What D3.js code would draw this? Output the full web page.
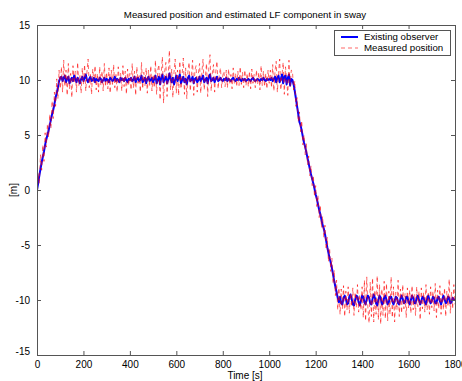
<!DOCTYPE html>
<html>
<head>
<meta charset="utf-8">
<script src="https://cdn.jsdelivr.net/npm/d3@7"></script>
<style>
  body { margin: 0; background: #fff; }
  svg { font-family: "Liberation Sans", Arial, sans-serif; }
</style>
</head>
<body>
<div id="chart"></div>
<script>
// sample spacing of both series, in seconds
const dt = 5;

// estimated LF position from the existing observer [m]
const observer = [
  // 0-100
  0.0, 0.6, 1.3, 1.9, 2.5, 3.0, 3.5, 4.1, 4.6, 5.0, 5.4, 5.9, 6.4, 6.9, 7.3, 7.8, 8.4, 8.8, 9.3, 9.9, 10.2,
  // 105-1095
  10.3, 9.9, 10.2, 10.4, 9.8, 10.1, 10.3, 9.7, 10.0, 10.2, 9.9, 10.4, 10.1, 9.8, 10.2, 10.0, 9.7, 10.1, 10.3, 9.9,
  10.2, 10.5, 10.0, 9.8, 10.1, 10.3, 9.9, 10.0, 10.2, 9.8, 10.1, 10.0, 9.9, 10.2, 10.1, 9.8, 10.0, 10.2, 9.9, 10.1,
  10.0, 9.8, 10.2, 10.1, 9.9, 10.0, 10.3, 9.9, 10.1, 10.0, 9.8, 10.2, 10.0, 10.1, 9.9, 10.2, 10.0, 9.8, 10.1, 10.0,
  10.2, 9.9, 10.0, 10.3, 9.8, 10.1, 10.2, 9.9, 10.0, 10.4, 9.8, 10.0, 10.2, 9.7, 10.1, 10.3, 9.9, 10.0, 10.2, 9.8,
  10.1, 10.4, 9.7, 10.0, 10.3, 9.6, 10.2, 10.5, 9.8, 10.1, 10.3, 9.7, 10.0, 10.6, 10.1, 9.8, 10.2, 9.6, 10.0, 10.4,
  9.9, 10.2, 10.5, 9.7, 10.0, 10.3, 9.8, 10.1, 9.6, 10.2, 10.4, 9.9, 10.0, 10.3, 9.7, 10.1, 10.2, 9.8, 10.0, 10.3,
  9.9, 10.1, 10.4, 9.8, 10.0, 10.2, 9.7, 10.3, 10.5, 9.9, 10.0, 10.2, 9.8, 10.1, 10.3, 9.9, 10.0, 10.2, 10.0, 9.9,
  10.1, 10.0, 10.2, 9.9, 10.1, 10.0, 9.9, 10.1, 10.2, 10.0, 9.9, 10.1, 10.0, 10.2, 10.0, 9.9, 10.1, 10.0, 10.1, 9.9,
  10.0, 10.1, 10.0, 9.9, 10.1, 10.2, 10.0, 9.9, 10.0, 10.1, 10.0, 9.9, 10.1, 10.0, 10.2, 10.0, 9.9, 10.1, 10.0, 10.1,
  10.0, 10.2, 9.9, 10.1, 10.3, 9.8, 10.2, 10.4, 9.8, 10.1, 10.5, 9.7, 10.3, 10.4, 9.6, 10.2, 10.5, 9.5, 10.1,
  // 1100-1300
  10.0, 9.6, 9.0, 8.3, 7.6, 6.9, 6.2, 5.9, 5.4, 4.8, 4.3, 3.9, 3.4, 2.9, 2.4, 1.9, 1.4, 1.0, 0.6, 0.1,
  -0.4, -0.8, -1.3, -1.8, -2.2, -2.7, -3.2, -3.5, -4.0, -4.6, -5.2, -5.7, -6.2, -6.6, -7.1, -7.7, -8.3, -8.8, -9.3, -9.8, -10.2,
  // 1305-1800
  -9.7, -10.3, -10.4, -9.8, -9.6, -9.9, -10.4, -10.3, -9.7, -9.5, -9.9, -10.4, -10.5, -10.0, -9.6, -9.7, -10.2, -10.5, -10.1, -9.6,
  -9.7, -10.2, -10.4, -9.9, -9.6, -9.8, -10.3, -10.4, -9.9, -9.5, -9.8, -10.3, -10.5, -10.0, -9.6, -9.8, -10.4, -10.3, -9.8, -9.6,
  -10.0, -10.4, -10.2, -9.7, -9.7, -10.1, -10.4, -10.1, -9.7, -9.8, -10.3, -10.4, -9.9, -9.6, -9.9, -10.3, -10.2, -9.7, -9.7, -10.2,
  -10.4, -10.0, -9.6, -9.8, -10.3, -10.3, -9.8, -9.6, -10.0, -10.4, -10.1, -9.7, -9.8, -10.2, -10.4, -9.9, -9.6, -10.0, -10.3, -10.1,
  -9.7, -9.8, -10.3, -10.3, -9.8, -9.7, -10.1, -10.4, -10.0, -9.6, -9.9, -10.3, -10.2, -9.7, -9.8, -10.3, -10.2, -9.8, -10.0, -9.9
];

// measured position [m]
const measured = [
  // 0-100
  -1.4, 1.5, 0.6, 3.2, 1.8, 4.1, 2.6, 5.2, 3.9, 6.0, 4.8, 6.9, 5.6, 8.1, 6.5, 8.9, 7.6, 10.1, 8.3, 10.9, 9.2,
  // 105-1095
  11.2, 8.9, 11.8, 9.4, 10.9, 8.6, 11.5, 9.2, 10.6, 8.4, 11.3, 9.7, 10.8, 8.9, 11.6, 9.5, 10.4, 8.8, 11.1, 9.6,
  11.4, 9.0, 10.7, 11.9, 9.3, 10.5, 8.7, 11.0, 9.8, 11.3, 9.1, 10.6, 8.9, 11.2, 9.5, 10.8, 9.0, 11.5, 9.4, 10.7,
  9.2, 11.1, 8.8, 10.9, 9.6, 11.4, 9.3, 10.5, 8.9, 11.2, 9.7, 10.6, 9.0, 11.3, 9.4, 10.8, 8.7, 11.0, 9.5, 10.6,
  9.1, 11.5, 9.3, 10.8, 8.6, 11.2, 9.7, 10.4, 8.9, 11.6, 9.2, 10.7, 9.5, 11.1, 8.8, 10.9, 9.4, 11.3, 9.0, 10.5,
  9.3, 11.8, 8.7, 10.9, 11.4, 8.2, 10.6, 12.1, 7.9, 10.8, 11.6, 8.5, 10.3, 12.7, 9.1, 11.0, 8.4, 10.7, 11.9, 8.8,
  10.9, 8.6, 11.7, 9.2, 10.5, 12.0, 8.7, 11.1, 8.3, 10.8, 11.6, 9.0, 10.4, 11.8, 8.6, 10.9, 11.3, 8.9, 10.6, 11.5,
  8.8, 10.7, 11.9, 9.1, 10.3, 11.5, 8.5, 11.2, 12.3, 9.0, 10.6, 11.4, 8.9, 10.8, 11.7, 9.2, 10.5, 11.1, 9.3, 10.4,
  10.8, 9.4, 10.9, 9.3, 11.0, 9.6, 10.5, 9.2, 11.1, 9.7, 10.6, 9.4, 10.8, 9.5, 11.2, 9.6, 10.7, 9.3, 10.9, 9.5,
  10.6, 9.4, 10.8, 9.2, 11.0, 9.7, 10.5, 9.3, 10.9, 9.6, 10.7, 9.1, 11.3, 9.5, 10.8, 9.4, 10.6, 9.2, 10.9, 9.7,
  10.9, 9.3, 11.4, 9.0, 10.8, 11.7, 8.9, 10.6, 11.9, 9.1, 10.4, 11.6, 8.7, 11.2, 10.1, 8.6, 11.8, 9.4, 10.9,
  // 1100-1300
  10.8, 9.1, 9.9, 7.6, 8.4, 6.2, 7.1, 5.3, 6.3, 4.1, 5.0, 3.2, 4.2, 2.3, 3.1, 1.3, 2.2, 0.4, 1.3, -0.6,
  0.4, -1.5, -0.5, -2.5, -1.4, -3.4, -2.4, -4.3, -3.2, -5.4, -4.3, -6.5, -5.3, -7.4, -6.2, -8.5, -7.3, -9.6, -8.2, -10.9, -8.9,
  // 1305-1800
  -11.3, -9.0, -10.8, -8.7, -11.5, -9.2, -10.9, -8.8, -11.2, -9.4, -10.6, -8.9, -11.4, -9.3, -10.7, -8.6, -11.1, -9.5, -10.9, -8.8,
  -11.6, -8.2, -11.9, -7.9, -10.8, -12.1, -8.4, -11.5, -8.0, -12.0, -9.1, -11.3, -7.8, -11.8, -8.6, -12.2, -9.0, -11.4, -8.3, -11.7,
  -8.5, -11.9, -9.2, -11.3, -7.9, -11.6, -8.8, -12.0, -9.3, -10.9, -8.2, -11.5, -9.0, -11.2, -8.6, -10.8, -9.4, -11.6, -8.9, -10.7,
  -9.1, -11.2, -8.7, -10.9, -9.5, -11.4, -8.8, -10.6, -9.2, -11.8, -8.9, -10.8, -9.3, -11.1, -8.6, -10.9, -9.4, -11.3, -8.8, -10.7,
  -9.2, -11.0, -8.5, -11.6, -9.1, -10.8, -8.7, -11.3, -9.4, -10.9, -8.9, -11.5, -9.2, -10.6, -8.1, -11.2, -9.3, -10.8, -8.6, -10.4
];

const xTicks = [0, 200, 400, 600, 800, 1000, 1200, 1400, 1600, 1800];
const yTicks = [-15, -10, -5, 0, 5, 10, 15];
const seriesNames = ['Existing observer', 'Measured position'];

const width = 462, height = 381;
const margin = { top: 25, right: 7, bottom: 26, left: 37 };
const w = width - margin.left - margin.right;
const h = height - margin.top - margin.bottom;

const svg = d3.select('#chart').append('svg')
  .attr('width', width)
  .attr('height', height);

const x = d3.scaleLinear().domain([0, 1800]).range([0, w]);
const y = d3.scaleLinear().domain([-15, 15]).range([h, 0]);
const fmt = d => String(d);

const g = svg.append('g').attr('transform', `translate(${margin.left},${margin.top})`);

g.append('defs').append('clipPath').attr('id', 'clip')
  .append('rect').attr('width', w).attr('height', h);

// lines
const line = d3.line()
  .x((d, i) => x(i * dt))
  .y(d => y(d));

const plot = g.append('g').attr('clip-path', 'url(#clip)');
plot.append('path')
  .datum(observer)
  .attr('fill', 'none')
  .attr('stroke', '#0000ff')
  .attr('stroke-width', 2)
  .attr('stroke-linejoin', 'round')
  .attr('d', line);

plot.append('path')
  .datum(measured)
  .attr('fill', 'none')
  .attr('stroke', '#ff0000')
  .attr('stroke-width', 0.6)
  .attr('stroke-dasharray', '4,3')
  .attr('d', line);

// axes (ticks inside, on all four sides, like matlab)
const axisColor = '#555';
const styleAxis = sel => {
  sel.select('.domain').remove();
  sel.selectAll('line').attr('stroke', axisColor);
  sel.selectAll('text').attr('fill', '#000').style('font-size', '10px');
};

g.append('g')
  .attr('transform', `translate(0,${h})`)
  .call(d3.axisBottom(x).tickValues(xTicks).tickSize(-4).tickPadding(6).tickFormat(fmt))
  .call(styleAxis);

g.append('g')
  .call(d3.axisTop(x).tickValues(xTicks).tickSize(-4).tickFormat(''))
  .call(styleAxis);

g.append('g')
  .call(d3.axisLeft(y).tickValues(yTicks).tickSize(-4).tickPadding(7).tickFormat(fmt))
  .call(styleAxis)
  .call(sel => sel.selectAll('text').filter(d => d === -15).attr('dy', '-0.1em'));

g.append('g')
  .attr('transform', `translate(${w},0)`)
  .call(d3.axisRight(y).tickValues(yTicks).tickSize(-4).tickFormat(''))
  .call(styleAxis);

g.append('rect')
  .attr('width', w).attr('height', h)
  .attr('fill', 'none')
  .attr('stroke', axisColor)
  .attr('stroke-width', 1)
  .attr('shape-rendering', 'crispEdges');

// title and labels
svg.append('text')
  .attr('x', 245)
  .attr('y', 18)
  .attr('text-anchor', 'middle')
  .style('font-size', '9.7px')
  .text('Measured position and estimated LF component in sway');

svg.append('text')
  .attr('x', 245)
  .attr('y', 379)
  .attr('text-anchor', 'middle')
  .style('font-size', '10px')
  .text('Time [s]');

svg.append('text')
  .attr('transform', `translate(17,${margin.top + h / 2}) rotate(-90)`)
  .attr('text-anchor', 'middle')
  .style('font-size', '10px')
  .text('[m]');

// legend
const legend = svg.append('g').attr('transform', 'translate(334,30)');
legend.append('rect')
  .attr('width', 116).attr('height', 25)
  .attr('fill', '#fff')
  .attr('stroke', axisColor)
  .attr('shape-rendering', 'crispEdges');

const legendStyles = [
  { stroke: '#0000ff', width: 2, dash: null },
  { stroke: '#ff0000', width: 0.6, dash: '4,3' }
];
seriesNames.forEach((name, i) => {
  const row = legend.append('g').attr('transform', `translate(0,${7 + i * 11})`);
  row.append('line')
    .attr('x1', 7).attr('x2', 24)
    .attr('stroke', legendStyles[i].stroke)
    .attr('stroke-width', legendStyles[i].width)
    .attr('stroke-dasharray', legendStyles[i].dash);
  row.append('text')
    .attr('x', 30).attr('dy', '0.35em')
    .style('font-size', '9.7px')
    .text(name);
});
</script>
</body>
</html>
